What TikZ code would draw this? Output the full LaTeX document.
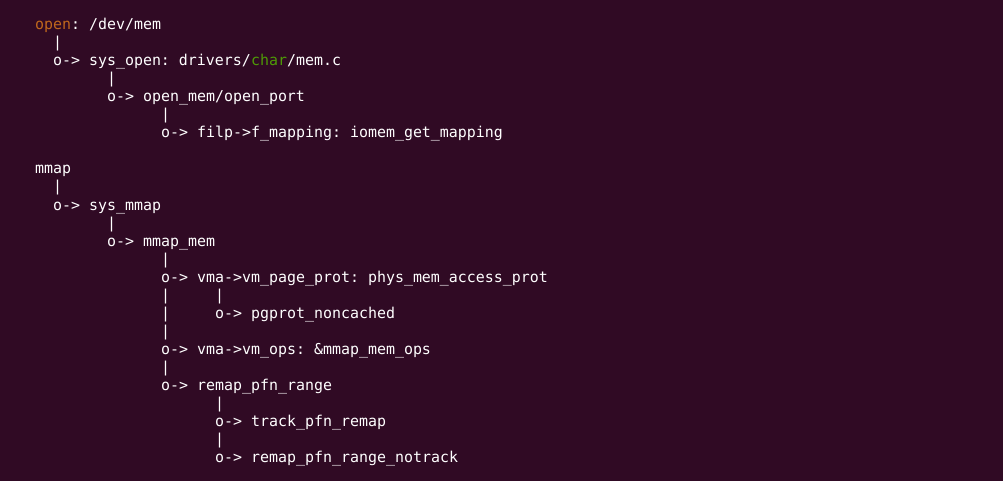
\documentclass[tikz,border=0pt]{standalone}
\usepackage{fontspec}
\newfontfamily\termfont{DejaVu Sans Mono}
\usepackage{xcolor}
\definecolor{termbg}{HTML}{300A24}
\definecolor{termfg}{HTML}{FFFFFF}
\definecolor{kwbrown}{HTML}{C0681C}
\definecolor{typegreen}{HTML}{4E9A06}
\frenchspacing

\begin{document}
\begin{tikzpicture}[%
    x = 1pt, y = -1pt,
    termline/.style = {anchor=base west, inner sep=0pt, outer sep=0pt,
        text=termfg, font=\termfont\fontsize{14.95pt}{18pt}\selectfont}
]
\fill[termbg] (0,0) rectangle (1003,481);
% column/row of the terminal grid: x = 35 + 9*col, y = 30 + 18*row
\foreach \col/\row in {2/1, 8/3, 14/5, 2/9, 8/11, 14/13, 14/15, 20/15, 14/16,
                       14/17, 14/19, 20/21, 20/23} {
    \node (bar\row-\col) [termline] at ({35+9*\col},{30+18*\row}) {|};
}
% open /dev/mem
\node (open) [termline] at (35,30) {\textcolor{kwbrown}{open}: /dev/mem};
\node (sysopen) [termline] at ({35+9*2},{30+18*2})
    {o-> sys\_open: drivers/\textcolor{typegreen}{char}/mem.c};
\node (openmem) [termline] at ({35+9*8},{30+18*4}) {o-> open\_mem/open\_port};
\node (filp) [termline] at ({35+9*14},{30+18*6})
    {o-> filp->f\_mapping: iomem\_get\_mapping};
% mmap
\node (mmap) [termline] at (35,{30+18*8}) {mmap};
\node (sysmmap) [termline] at ({35+9*2},{30+18*10}) {o-> sys\_mmap};
\node (mmapmem) [termline] at ({35+9*8},{30+18*12}) {o-> mmap\_mem};
\node (pageprot) [termline] at ({35+9*14},{30+18*14})
    {o-> vma->vm\_page\_prot: phys\_mem\_access\_prot};
\node (noncached) [termline] at ({35+9*20},{30+18*16}) {o-> pgprot\_noncached};
\node (vmops) [termline] at ({35+9*14},{30+18*18})
    {o-> vma->vm\_ops: \&mmap\_mem\_ops};
\node (remap) [termline] at ({35+9*14},{30+18*20}) {o-> remap\_pfn\_range};
\node (track) [termline] at ({35+9*20},{30+18*22}) {o-> track\_pfn\_remap};
\node (notrack) [termline] at ({35+9*20},{30+18*24})
    {o-> remap\_pfn\_range\_notrack};
\end{tikzpicture}
\end{document}
